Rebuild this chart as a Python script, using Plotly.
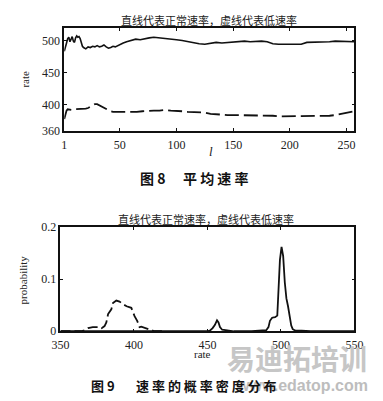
import plotly.graph_objects as go

# ---- Figure 8: average rate vs l ----
l_normal = [1,2,3,4,5,6,7,8,9,10,11,12,13,14,15,16,17,18,20,22,24,26,28,30,32,34,36,38,40,42,44,46,48,50,
            53,56,60,64,68,72,76,80,84,88,92,96,100,105,110,115,120,125,130,135,140,145,150,155,160,165,
            170,175,180,185,190,195,200,205,210,215,220,225,230,235,240,245,250,255,257]
rate_normal = [483,488,496,503,505,498,503,506,499,497,504,507,505,506,503,494,491,489,487,490,489,491,490,492,
               490,491,493,490,488,489,491,490,492,494,496,498,500,502,501,503,504,505,504,503,503,502,501,
               500,498,497,495,494,495,497,496,497,498,498,499,498,499,499,498,495,494,494,495,495,494,497,
               497,498,498,498,499,499,499,499,498]

l_low = [1,2,3,4,6,8,10,12,14,16,18,20,22,24,26,28,30,32,34,36,38,40,42,44,46,50,55,60,65,70,75,80,85,90,95,
         100,105,110,115,120,125,130,135,140,145,150,155,160,165,170,175,180,185,190,195,200,205,210,215,220,
         225,230,235,240,245,250,255,257]
rate_low = [378,386,391,393,392,392,393,393,394,394,393,394,395,397,399,401,401,399,398,396,393,391,390,389,389,
            388,388,388,389,390,391,391,391,392,391,391,390,389,389,389,388,386,385,385,384,384,384,384,383,
            384,383,383,383,382,382,382,382,382,383,383,383,383,383,384,386,388,389,390]

x8_ticks = [1, 50, 100, 150, 200, 250]
y8_ticks = [360, 400, 450, 500]

# ---- Figure 9: probability density of rate ----
r_normal = [350,440,450,452,453.5,455,456.5,457.5,458.5,460,462,465,468,480,484,487,490,491.5,492.5,494,496,
            497.5,498.2,499.3,500.4,501.5,502.6,503.7,504.8,505.9,507,508,510,514,520,550]
p_normal = [0,0,0,0.002,0.006,0.012,0.021,0.017,0.008,0.003,0.002,0.001,0,0,0.001,0.002,0.002,0.008,0.02,0.026,
            0.027,0.03,0.08,0.137,0.162,0.144,0.094,0.063,0.048,0.026,0.011,0.004,0.001,0.001,0,0]

r_low = [350,364,366.5,368.8,372,376.7,378,380,381.2,382.4,384.6,385.7,388,390.2,392.5,395,398.2,400.4,402.2,
         403.8,405,407,410.6,414,420]
p_low = [0,0,0.002,0.006,0.008,0.008,0.006,0.01,0.017,0.033,0.042,0.054,0.059,0.057,0.052,0.048,0.045,0.029,0.02,
         0.008,0.009,0.007,0.002,0,0]

x9_ticks = [350, 400, 450, 500, 550]
y9_ticks = [0, 0.1, 0.2]
y9_labels = ["0", "0.1", "0.2"]

title_text = "直线代表正常速率，虚线代表低速率"

W, H = 383, 401
def px(x): return x / W
def py(y): return 1 - y / H

fig = go.Figure()
fig.add_trace(go.Scatter(x=l_normal, y=rate_normal, mode="lines",
                         line=dict(color="#111", width=1.6), xaxis="x", yaxis="y", showlegend=False))
fig.add_trace(go.Scatter(x=l_low, y=rate_low, mode="lines",
                         line=dict(color="#111", width=1.8, dash="14px,5px"), xaxis="x", yaxis="y", showlegend=False))
fig.add_trace(go.Scatter(x=r_normal, y=p_normal, mode="lines",
                         line=dict(color="#111", width=1.8), xaxis="x2", yaxis="y2", showlegend=False))
fig.add_trace(go.Scatter(x=r_low, y=p_low, mode="lines",
                         line=dict(color="#111", width=1.8, dash="10px,4px"), xaxis="x2", yaxis="y2", showlegend=False))

tickfont = dict(family="Liberation Serif, Times New Roman, serif", size=12, color="#222")
axis_common = dict(showline=True, linecolor="#111", linewidth=1.5, mirror="ticks", ticks="inside",
                   ticklen=3, tickcolor="#111", showgrid=False, zeroline=False, tickfont=tickfont)

fig.update_layout(
    width=W, height=H, margin=dict(l=0, r=0, t=0, b=0),
    paper_bgcolor="white", plot_bgcolor="white",
    xaxis=dict(domain=[px(58), px(362.5)], range=[1, 257], tickvals=x8_ticks, anchor="y",
               ticklabelstandoff=2, **axis_common),
    yaxis=dict(domain=[py(128), py(22)], range=[360, 519], tickvals=y8_ticks, anchor="x", **axis_common),
    xaxis2=dict(domain=[px(54), px(362.5)], range=[350, 550], tickvals=x9_ticks, anchor="y2",
                ticklabelstandoff=2, **axis_common),
    yaxis2=dict(domain=[py(336), py(228)], range=[0, 0.2], tickvals=y9_ticks, ticktext=y9_labels,
                anchor="x2", **axis_common),
)

cjk = "Noto Sans CJK SC"
serif = "Liberation Serif, serif"
anns = [
    # watermark (behind)
    dict(x=px(302), y=py(364), text="<b>易迪拓培训</b>", font=dict(family=cjk, size=28, color="#c6c6c6")),
    dict(x=px(379), y=py(392), xanchor="right", text="<b>www.edatop.com</b>",
         font=dict(family="Liberation Sans, Arial, sans-serif", size=16, color="#bdbdbd")),
    # titles
    dict(x=px(210), y=py(13), text=title_text, font=dict(family=cjk, size=11, color="#222")),
    dict(x=px(207), y=py(220), text=title_text, font=dict(family=cjk, size=11, color="#222")),
    # captions
    dict(x=px(135), y=py(177), xanchor="left", text="<b>图 8</b>", font=dict(family=cjk, size=14, color="#111")),
    dict(x=px(181), y=py(177), xanchor="left", text="<b>平 均 速 率</b>", font=dict(family=cjk, size=14, color="#111")),
    dict(x=px(84), y=py(392), xanchor="left", text="<b>图 9</b>", font=dict(family=cjk, size=13, color="#111")),
    dict(x=px(131), y=py(392), xanchor="left", text="<b>速 率 的 概 率 密 度 分 布</b>",
         font=dict(family=cjk, size=13, color="#111")),
    # axis labels
    dict(x=px(17), y=py(75), text="rate", textangle=-90, font=dict(family=serif, size=11, color="#222")),
    dict(x=px(212), y=py(150), text="<i>l</i>", font=dict(family=serif, size=13, color="#222")),
    dict(x=px(15), y=py(283), text="probability", textangle=-90, font=dict(family=serif, size=11, color="#222")),
    dict(x=px(203), y=py(360), text="rate", font=dict(family=serif, size=11, color="#222")),
]
for a in anns:
    a.setdefault("xanchor", "center")
    a["yanchor"] = "middle"
    fig.add_annotation(xref="paper", yref="paper", showarrow=False, **a)

post = ("document.documentElement.style.margin='0';document.documentElement.style.overflow='hidden';"
        "document.body.style.margin='0';document.body.style.padding='0';document.body.style.overflow='hidden';")
fig.write_html("out.html", config={"displayModeBar": False}, post_script=post)
